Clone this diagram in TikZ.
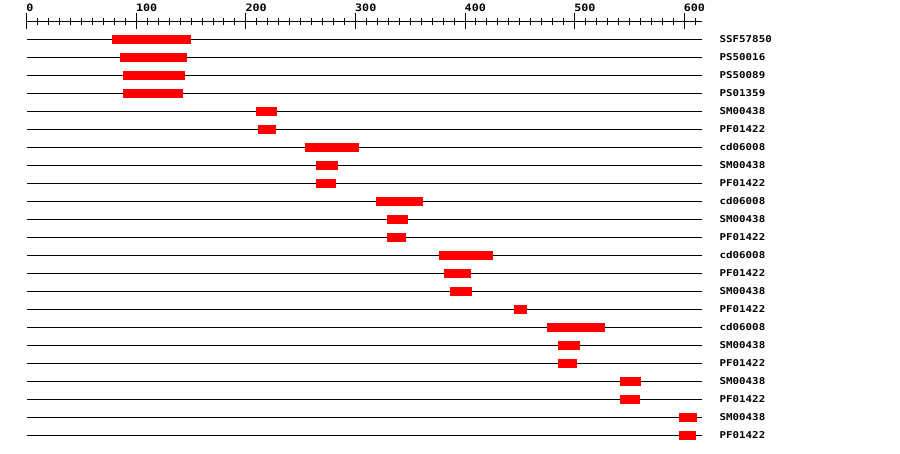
\documentclass[tikz,border=0pt]{standalone}
\usepackage{fontspec}
\newfontfamily\labfont[FakeStretch=1.15]{DejaVu Sans Mono}
\tikzset{
  rowline/.style={line width=1pt, black},
  dombar/.style={fill=red, draw=none},
  rowlab/.style={anchor=west, inner sep=0pt, font=\labfont\bfseries\fontsize{9.4}{11}\selectfont},
  axlab/.style={anchor=base west, inner sep=0pt, font=\labfont\bfseries\fontsize{10.2}{12}\selectfont},
  axline/.style={line width=1pt, black},
}
\begin{document}
\begin{tikzpicture}[x=1pt, y=-1pt]
\useasboundingbox (0,0) rectangle (900,454);
% axis
\draw[axline] (27,21.5) -- (702,21.5);
\foreach \u in {0,10,...,610} {
  \pgfmathsetmacro{\xx}{26.8+1.0955*\u}
  \draw[axline] (\xx,18.5) -- (\xx,25);
}
\foreach \u in {0,100,...,600} {
  \pgfmathsetmacro{\xx}{26.8+1.0955*\u}
  \draw[axline] (\xx,13) -- (\xx,29);
  \node[axlab] (ax\u) at (\xx-0.5,12) {\u};
}
% rows: index/start/end/label
\foreach \i/\a/\b/\t in {
  1/112/191/SSF57850,
  2/120/187/PS50016,
  3/123/185/PS50089,
  4/123/183/PS01359,
  5/256/277/SM00438,
  6/258/276/PF01422,
  7/305/359/cd06008,
  8/316/338/SM00438,
  9/316/336/PF01422,
  10/376/423/cd06008,
  11/387/408/SM00438,
  12/387/406/PF01422,
  13/439/493/cd06008,
  14/444/471/PF01422,
  15/450/472/SM00438,
  16/514/527/PF01422,
  17/547/605/cd06008,
  18/558/580/SM00438,
  19/558/577/PF01422,
  20/620/641/SM00438,
  21/620/640/PF01422,
  22/679/697/SM00438,
  23/679/696/PF01422} {
  \pgfmathsetmacro{\yy}{39.5+18*(\i-1)}
  \draw[rowline] (27,\yy) -- (702,\yy);
  \fill[dombar] (\a,\yy-4.5) rectangle (\b,\yy+4.5);
  \node[rowlab] (lab\i) at (719.5,\yy) {\t};
}
\end{tikzpicture}
\end{document}
